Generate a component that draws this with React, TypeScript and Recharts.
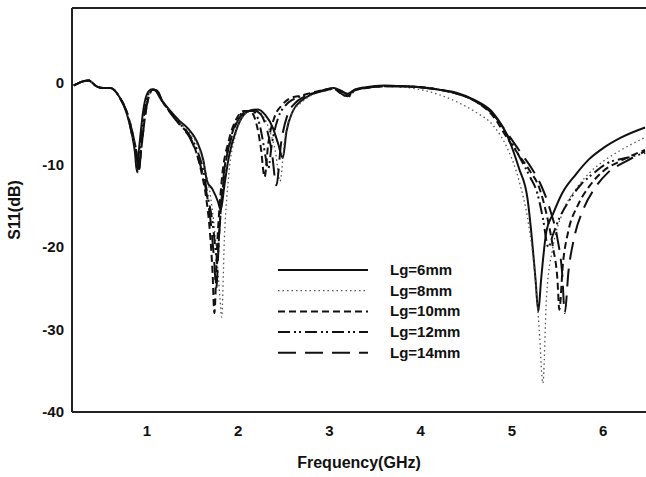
import React from "react";
import {
  LineChart,
  Line,
  XAxis,
  YAxis,
  Label,
  Legend,
  ReferenceLine,
} from "recharts";

// S11 vs frequency
const freq6 = [0.2, 0.3, 0.36, 0.45, 0.52, 0.6, 0.7, 0.78, 0.84, 0.87, 0.89, 0.92, 0.96, 1.0, 1.05, 1.09, 1.15, 1.25, 1.35, 1.45, 1.55, 1.62, 1.66, 1.72, 1.78, 1.81, 1.85, 1.9, 1.98, 2.06, 2.14, 2.22, 2.3, 2.38, 2.44, 2.49, 2.53, 2.6, 2.7, 2.8, 2.95, 3.05, 3.12, 3.2, 3.28, 3.4, 3.6, 3.8, 4.0, 4.2, 4.4, 4.6, 4.8, 4.95, 5.08, 5.17, 5.22, 5.26, 5.29, 5.32, 5.38, 5.45, 5.55, 5.7, 5.85, 6.0, 6.2, 6.46];
const s11_6 = [-0.4, 0.1, 0.2, -0.5, -0.7, -0.7, -1.8, -3.8, -6.5, -8.5, -10.8, -7.5, -3.5, -1.5, -0.9, -1.0, -2.0, -3.4, -4.6, -5.6, -7.2, -9.5, -12, -13, -14.5, -15.5, -12.5, -9.0, -5.8, -4.0, -3.4, -3.3, -4.0, -5.5, -7.5, -9.2, -6.0, -3.5, -2.2, -1.5, -0.9, -0.7, -1.0, -1.5, -0.9, -0.6, -0.4, -0.5, -0.6, -0.9, -1.3, -2.2, -3.8, -6.5, -10.5, -14, -19, -24, -27.8, -24, -18, -16, -13.5, -11.2, -9.3, -8.0, -6.7, -5.5];

const freq8 = [0.2, 0.3, 0.36, 0.45, 0.52, 0.6, 0.7, 0.78, 0.84, 0.88, 0.9, 0.93, 0.97, 1.01, 1.06, 1.1, 1.16, 1.26, 1.36, 1.46, 1.56, 1.64, 1.7, 1.76, 1.8, 1.82, 1.85, 1.9, 1.97, 2.05, 2.13, 2.2, 2.28, 2.35, 2.41, 2.46, 2.51, 2.58, 2.7, 2.8, 2.95, 3.05, 3.12, 3.2, 3.28, 3.4, 3.6, 3.8, 4.0, 4.2, 4.4, 4.6, 4.8, 4.95, 5.08, 5.18, 5.25, 5.3, 5.34, 5.38, 5.45, 5.55, 5.7, 5.85, 6.0, 6.2, 6.46];
const s11_8 = [-0.4, 0.1, 0.2, -0.5, -0.7, -0.7, -1.8, -3.8, -6.5, -8.8, -11, -7.8, -3.8, -1.6, -0.9, -1.0, -2.1, -3.6, -4.9, -6.0, -7.8, -10.5, -14, -20, -26, -28.5, -19, -11, -6.5, -4.2, -3.5, -3.4, -4.2, -6, -8.5, -12, -7, -4, -2.4, -1.6, -1.0, -0.8, -1.1, -1.6, -1.0, -0.7, -0.5, -0.6, -0.9, -1.5, -2.4, -3.6, -5.3, -8, -12, -17, -23, -30, -36.5, -26, -20, -16, -13, -11, -9.6, -8.2, -6.7];

const freq10 = [0.2, 0.3, 0.36, 0.45, 0.52, 0.6, 0.7, 0.78, 0.85, 0.89, 0.91, 0.94, 0.98, 1.02, 1.07, 1.11, 1.17, 1.27, 1.37, 1.47, 1.55, 1.6, 1.65, 1.69, 1.72, 1.74, 1.77, 1.82, 1.9, 1.98, 2.06, 2.14, 2.2, 2.25, 2.29, 2.33, 2.4, 2.48, 2.56, 2.7, 2.8, 2.95, 3.05, 3.12, 3.2, 3.28, 3.4, 3.6, 3.8, 4.0, 4.2, 4.4, 4.6, 4.8, 4.95, 5.1, 5.2, 5.3, 5.38, 5.45, 5.5, 5.52, 5.56, 5.62, 5.72, 5.85, 6.0, 6.2, 6.46];
const s11_10 = [-0.4, 0.1, 0.2, -0.5, -0.7, -0.7, -1.8, -3.6, -6.5, -8.8, -10.8, -8, -4.2, -1.8, -0.9, -1.0, -2.3, -3.8, -5.2, -6.6, -8.8, -11, -14, -18, -23, -28, -20, -12, -7, -4.5, -3.5, -3.6, -5, -8, -11.5, -7.5, -4.2, -2.8, -2.0, -1.6, -1.3, -0.9, -0.8, -1.3, -1.7, -1.0, -0.7, -0.5, -0.5, -0.6, -0.9, -1.4, -2.3, -4.2, -6.8, -9.2, -10.8, -12.8, -16, -20, -24, -27.6, -22, -18, -15, -12.6, -10.8, -9.5, -8.2];

const freq12 = [0.2, 0.3, 0.36, 0.45, 0.52, 0.6, 0.7, 0.78, 0.84, 0.88, 0.9, 0.93, 0.97, 1.01, 1.06, 1.1, 1.16, 1.26, 1.36, 1.46, 1.55, 1.62, 1.67, 1.72, 1.75, 1.77, 1.8, 1.85, 1.92, 2.0, 2.08, 2.16, 2.22, 2.27, 2.3, 2.33, 2.37, 2.44, 2.52, 2.6, 2.7, 2.8, 2.95, 3.05, 3.12, 3.2, 3.28, 3.4, 3.6, 3.8, 4.0, 4.2, 4.4, 4.6, 4.8, 4.95, 5.1, 5.2, 5.28, 5.34, 5.4, 5.45, 5.52, 5.62, 5.75, 5.9, 6.05, 6.25, 6.46];
const s11_12 = [-0.4, 0.1, 0.2, -0.5, -0.7, -0.7, -1.8, -3.7, -6.5, -8.8, -11, -7.8, -4, -1.7, -0.9, -1.0, -2.2, -3.7, -5.0, -6.3, -8.2, -10.8, -14, -17, -20, -22, -17, -11, -6.8, -4.4, -3.5, -3.5, -4.5, -7, -9, -10.5, -7.5, -4.3, -2.8, -2.1, -1.7, -1.4, -1.0, -0.8, -1.3, -1.8, -1.0, -0.7, -0.5, -0.5, -0.6, -0.9, -1.4, -2.3, -4.0, -6.4, -9.4, -11.5, -13.5, -16.5, -20, -18.5, -16.5, -14.5, -12.5, -11, -9.8, -9.2, -8.6];

const freq14 = [0.2, 0.3, 0.36, 0.45, 0.52, 0.6, 0.7, 0.78, 0.85, 0.89, 0.91, 0.94, 0.98, 1.02, 1.07, 1.11, 1.17, 1.27, 1.37, 1.47, 1.55, 1.62, 1.67, 1.71, 1.74, 1.76, 1.79, 1.84, 1.92, 2.0, 2.08, 2.16, 2.24, 2.31, 2.37, 2.42, 2.47, 2.54, 2.62, 2.72, 2.82, 2.95, 3.05, 3.12, 3.2, 3.28, 3.4, 3.6, 3.8, 4.0, 4.2, 4.4, 4.6, 4.8, 4.95, 5.1, 5.22, 5.32, 5.42, 5.5, 5.55, 5.58, 5.62, 5.68, 5.78, 5.9, 6.05, 6.25, 6.46];
const s11_14 = [-0.4, 0.1, 0.2, -0.5, -0.7, -0.7, -1.8, -3.6, -6.5, -8.8, -10.9, -8, -4.2, -1.8, -0.9, -1.0, -2.3, -3.9, -5.3, -6.7, -8.8, -11.5, -14.5, -18, -22, -25, -19, -11.5, -7, -4.6, -3.6, -3.4, -3.8, -5.5, -8.5, -12.5, -7.5, -4, -2.6, -1.8, -1.4, -1.0, -0.8, -1.0, -1.4, -0.9, -0.7, -0.5, -0.5, -0.6, -0.9, -1.4, -2.3, -4.0, -6.2, -8.6, -10.5, -12.5, -15.5, -19, -23, -28, -23, -19, -15.5, -13, -11, -9.6, -8.4];

const xTicks = [1, 2, 3, 4, 5, 6];
const yTicks = [0, -10, -20, -30, -40];

const zip = (f: number[], s: number[]) => f.map((x, i) => ({ f: x, s: s[i] }));

const series = [
  { name: "Lg=6mm", data: zip(freq6, s11_6), stroke: "#111", width: 2, dash: undefined },
  { name: "Lg=8mm", data: zip(freq8, s11_8), stroke: "#555", width: 1.3, dash: "1.5 3" },
  { name: "Lg=10mm", data: zip(freq10, s11_10), stroke: "#111", width: 2, dash: "7 4" },
  { name: "Lg=12mm", data: zip(freq12, s11_12), stroke: "#111", width: 2, dash: "12 4 2 3 2 4" },
  { name: "Lg=14mm", data: zip(freq14, s11_14), stroke: "#111", width: 2, dash: "18 9" },
];

const FONT = "'Liberation Sans', Arial, sans-serif";
const tickStyle = { fontFamily: FONT, fontWeight: 700, fontSize: 15, fill: "#111" };

function LegendBox() {
  return (
    <svg width={200} height={110}>
      {series.map((s, i) => (
        <g key={s.name} transform={`translate(0, ${10 + i * 20.7})`}>
          <line x1={0} x2={90} y1={0} y2={0} stroke={s.stroke} strokeWidth={s.width} strokeDasharray={s.dash} />
          <text x={112} y={5} fontFamily={FONT} fontWeight={700} fontSize={15} fill="#111">
            {s.name}
          </text>
        </g>
      ))}
    </svg>
  );
}

export default function App() {
  return (
    <div style={{ position: "absolute", left: 0, top: 0, background: "#fff" }}>
      <LineChart width={646} height={477} margin={{ top: 8, right: 0, left: 0, bottom: 0 }}>
        <XAxis
          type="number"
          dataKey="f"
          domain={[0.18, 6.47]}
          allowDataOverflow
          ticks={xTicks}
          tickLine={false}
          axisLine={{ stroke: "#222", strokeWidth: 2 }}
          tick={tickStyle}
          tickMargin={7}
          height={65}
        >
          <Label value="Frequency(GHz)" position="center" dy={18} style={{ fontFamily: FONT, fontWeight: 700, fontSize: 16, fill: "#111" }} />
        </XAxis>
        <YAxis
          type="number"
          domain={[-40, 9]}
          allowDataOverflow
          ticks={yTicks}
          tickLine={false}
          axisLine={{ stroke: "#222", strokeWidth: 2 }}
          tick={tickStyle}
          width={72}
        >
          <Label value="S11(dB)" angle={-90} position="center" dx={-22} style={{ fontFamily: FONT, fontWeight: 700, fontSize: 16, fill: "#111" }} />
        </YAxis>
        <ReferenceLine y={9} stroke="#222" strokeWidth={2} />
        {series.map((s) => (
          <Line
            key={s.name}
            data={s.data}
            dataKey="s"
            name={s.name}
            type="monotone"
            stroke={s.stroke}
            strokeWidth={s.width}
            strokeDasharray={s.dash}
            dot={false}
            isAnimationActive={false}
          />
        ))}
        <Legend
          layout="vertical"
          align="center"
          verticalAlign="middle"
          content={() => <LegendBox />}
          wrapperStyle={{ left: 278, top: 260, width: 200, height: 110 }}
        />
      </LineChart>
    </div>
  );
}
